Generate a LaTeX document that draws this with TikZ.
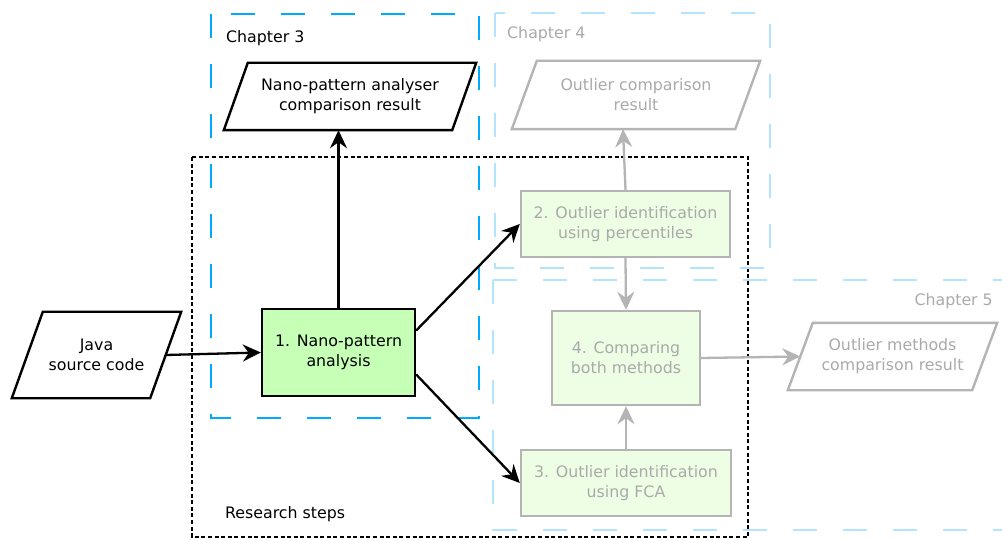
\documentclass[tikz,border=0pt]{standalone}
\usepackage{fontspec}
\setmainfont{DejaVu Sans}
\usetikzlibrary{arrows.meta}

\definecolor{chapblue}{RGB}{0,170,255}
\definecolor{chaplight}{RGB}{179,228,255}
\definecolor{fade}{RGB}{180,180,180}
\definecolor{fadetext}{RGB}{170,170,170}
\definecolor{stepgreen}{RGB}{198,255,182}
\definecolor{palegreen}{RGB}{237,254,229}

\begin{document}
\begin{tikzpicture}[x=1pt,y=-1pt,
  every node/.style={font=\fontsize{15.8}{20}\selectfont, inner sep=0pt, align=center},
  chapbox/.style={line width=2.8pt, dash pattern=on 24pt off 26pt},
  stepsbox/.style={line width=2.6pt, dash pattern=on 4pt off 2.6pt},
  mainstep/.style={draw=black, line width=2.4pt, fill=stepgreen},
  laterstep/.style={draw=fade, line width=2.4pt, fill=palegreen, text=fadetext},
  shapeline/.style={line width=2.4pt},
  conn/.style={line width=2.3pt, -{Stealth[length=18pt, width=17pt, inset=6pt]}},
  fadeconn/.style={conn, draw=fade, color=fade},
  chaplabel/.style={anchor=west},
]
\clip (0,0) rectangle (1002,540);
\fill[white] (0,0) rectangle (1002,540);

% research steps frame
\draw[stepsbox] (192,157) rectangle (748,537);

% chapter frames
\draw[chapbox, draw=chaplight] (495,13) rectangle (770,268);
\draw[chapbox, draw=chaplight] (493,280) rectangle (1030,530);
\draw[chapbox, draw=chapblue] (211,14) rectangle (479,418);

% labels
\node[chaplabel] (lab3) at (226,38) {Chapter 3};
\node[chaplabel, text=fadetext] (lab4) at (507,34) {Chapter 4};
\node[anchor=east, text=fadetext] (lab5) at (993,301) {Chapter 5};
\node[chaplabel] (labrs) at (225,514) {Research steps};

% data nodes (parallelograms drawn around their text nodes)
\node[minimum width=138pt, minimum height=86pt] (java) at (96.5,355) {Java\\source code};
\draw[shapeline] ([xshift=15.5pt]java.north west) -- ([xshift=15.5pt]java.north east)
  -- ([xshift=-15.5pt]java.south east) -- ([xshift=-15.5pt]java.south west) -- cycle;

\node[minimum width=228pt, minimum height=67pt] (nano) at (350,96.5) {Nano-pattern analyser\\comparison result};
\draw[shapeline] ([xshift=12pt]nano.north west) -- ([xshift=12pt]nano.north east)
  -- ([xshift=-12pt]nano.south east) -- ([xshift=-12pt]nano.south west) -- cycle;

\node[minimum width=223pt, minimum height=68pt, text=fadetext] (ocr) at (636,95) {Outlier comparison\\result};
\draw[shapeline, draw=fade] ([xshift=12.5pt]ocr.north west) -- ([xshift=12.5pt]ocr.north east)
  -- ([xshift=-12.5pt]ocr.south east) -- ([xshift=-12.5pt]ocr.south west) -- cycle;

\node[minimum width=184pt, minimum height=67pt, text=fadetext] (omr) at (892.5,356.5) {Outlier methods\\comparison result};
\draw[shapeline, draw=fade] ([xshift=12.5pt]omr.north west) -- ([xshift=12.5pt]omr.north east)
  -- ([xshift=-12.5pt]omr.south east) -- ([xshift=-12.5pt]omr.south west) -- cycle;

% process steps
\node[mainstep, minimum width=153pt, minimum height=87pt] (s1) at (338.5,352.5) {1. Nano-pattern\\analysis};
\node[laterstep, minimum width=209pt, minimum height=66pt] (s2) at (625.5,224) {2. Outlier identification\\using percentiles};
\node[laterstep, minimum width=210pt, minimum height=66pt] (s3) at (626,483) {3. Outlier identification\\using FCA};
\node[laterstep, minimum width=148pt, minimum height=94pt] (s4) at (626,358) {4. Comparing\\both methods};

% connectors
\draw[conn] (java.east) -- (s1.west);
\draw[conn] (s1.north) -- (s1.north |- nano.south);
\draw[conn] ([yshift=22pt]s1.east) -- (s2.west);
\draw[conn] ([yshift=-22pt]s1.east) -- (s3.west);
\draw[fadeconn] (s2.north) -- ([xshift=-13pt]ocr.south);
\draw[fadeconn] (s2.south) -- (s4.north);
\draw[fadeconn] (s3.north) -- (s4.south);
\draw[fadeconn] (s4.east) -- (omr.west);
\end{tikzpicture}
\end{document}
